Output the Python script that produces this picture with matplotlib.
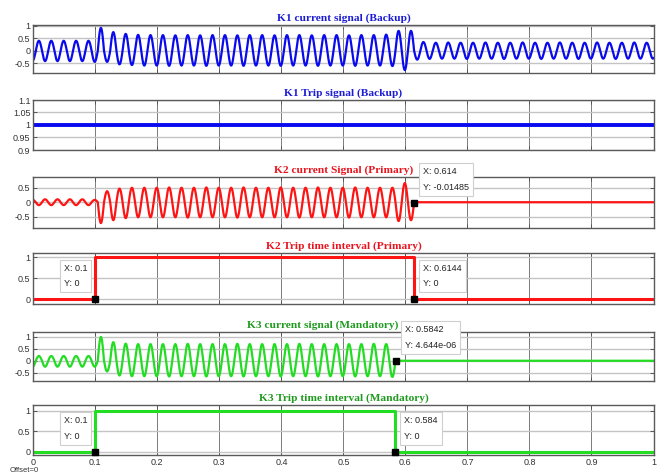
import numpy as np
import matplotlib.pyplot as plt

# Scope traces, 50 Hz: each value is the signed peak of one half cycle (0.01 s),
# the first half cycle starting at t = -0.006 s.
lobe_start = -0.006
half_period = 0.01

k1_peaks = [
    -0.40, 0.40, -0.42, 0.40, -0.42, 0.40, -0.42, 0.40, -0.42, 0.40,
    -0.45, 0.92, -0.45, 0.75, -0.55, 0.68, -0.58, 0.64, -0.60, 0.63,
    -0.60, 0.63, -0.61, 0.62, -0.60, 0.63, -0.60, 0.62, -0.61, 0.63,
    -0.60, 0.63, -0.60, 0.62, -0.61, 0.63, -0.60, 0.63, -0.60, 0.62,
    -0.61, 0.63, -0.60, 0.63, -0.60, 0.62, -0.61, 0.63, -0.60, 0.63,
    -0.60, 0.62, -0.61, 0.63, -0.60, 0.63, -0.60, 0.65, -0.62, 0.80,
    -0.78, 0.80, -0.36, 0.35, -0.33, 0.32, -0.32, 0.33, -0.32, 0.32,
    -0.33, 0.32, -0.32, 0.33, -0.32, 0.32, -0.33, 0.32, -0.32, 0.33,
    -0.32, 0.32, -0.33, 0.32, -0.32, 0.33, -0.32, 0.32, -0.33, 0.32,
    -0.32, 0.33, -0.32, 0.32, -0.33, 0.32, -0.32, 0.33, -0.32, 0.32,
    -0.32,
]
k2_peaks = [
    0.08, -0.10, 0.10, -0.10, 0.10, -0.10, 0.10, -0.10, 0.10, -0.10,
    0.08, -0.72, 0.38, -0.62, 0.47, -0.55, 0.50, -0.52, 0.50, -0.52,
    0.50, -0.52, 0.51, -0.52, 0.50, -0.53, 0.50, -0.52, 0.51, -0.52,
    0.50, -0.52, 0.50, -0.53, 0.51, -0.52, 0.50, -0.52, 0.50, -0.52,
    0.51, -0.52, 0.50, -0.53, 0.50, -0.52, 0.51, -0.52, 0.50, -0.52,
    0.50, -0.53, 0.51, -0.52, 0.50, -0.52, 0.50, -0.52, 0.50, -0.65,
    0.66, -0.62,
]
k3_peaks = [
    -0.25, 0.20, -0.25, 0.20, -0.25, 0.20, -0.25, 0.20, -0.25, 0.20,
    -0.25, 1.00, -0.45, 0.78, -0.62, 0.72, -0.65, 0.70, -0.65, 0.70,
    -0.65, 0.70, -0.66, 0.70, -0.65, 0.71, -0.65, 0.70, -0.66, 0.70,
    -0.65, 0.70, -0.65, 0.71, -0.66, 0.70, -0.65, 0.70, -0.65, 0.70,
    -0.66, 0.70, -0.65, 0.71, -0.65, 0.70, -0.66, 0.70, -0.65, 0.70,
    -0.65, 0.70, -0.66, 0.70, -0.65, 0.71, -0.65, 0.70, -0.68,
]
after_trip_level = 0.0

# trip signals (step, value held until next time)
k1_trip_t = [0.0, 1.0]
k1_trip_v = [1.0, 1.0]
k2_trip_t = [0.0, 0.1, 0.6144, 1.0]
k2_trip_v = [0.0, 1.0, 0.0, 0.0]
k3_trip_t = [0.0, 0.1, 0.584, 1.0]
k3_trip_v = [0.0, 1.0, 0.0, 0.0]

# data tips: (x, y, label x, label y)
k2_sig_tips = [(0.614, -0.01485, '0.614', '-0.01485')]
k2_trip_tips = [(0.1, 0.0, '0.1', '0'), (0.6144, 0.0, '0.6144', '0')]
k3_sig_tips = [(0.5842, 4.644e-06, '0.5842', '4.644e-06')]
k3_trip_tips = [(0.1, 0.0, '0.1', '0'), (0.584, 0.0, '0.584', '0')]

titles = ['K1 current signal (Backup)', 'K1 Trip signal (Backup)',
          'K2 current Signal (Primary)', 'K2 Trip time interval (Primary)',
          'K3 current signal (Mandatory)', 'K3 Trip time interval (Mandatory)']
x_ticks = [0, 0.1, 0.2, 0.3, 0.4, 0.5, 0.6, 0.7, 0.8, 0.9, 1]
x_ticklabels = ['0', '0.1', '0.2', '0.3', '0.4', '0.5', '0.6', '0.7', '0.8', '0.9', '1']

BLUE, RED, GREEN = '#0a0aee', '#ff1414', '#22dd22'
TITLE_COLORS = ['#1c1cd6', '#1c1cd6', '#e8141e', '#e8141e', '#1e9a1e', '#1e9a1e']
# title centre as fraction of axes width (the K3 current title sits a bit left)
title_x = [0.5, 0.5, 0.5, 0.5, 0.467, 0.5]


def lobe_trace(peaks, n=24):
    """Half-sine lobes through the read peak values."""
    s = np.linspace(0, 1, n)
    t = np.concatenate([lobe_start + half_period * (k + s) for k in range(len(peaks))])
    y = np.concatenate([p * np.sin(np.pi * s) for p in peaks])
    return t, y


def add_tip(ax, x, y, lx, ly, left=False):
    ax.plot([x], [y], 's', color='black', ms=5, clip_on=False, zorder=6)
    ax.annotate(f'X: {lx}\nY: {ly}', xy=(x, y),
                xytext=(-8 if left else 9, 11), textcoords='offset pixels',
                ha='right' if left else 'left', va='bottom', multialignment='left',
                fontsize=6.5, family='Liberation Sans', color='#222222', linespacing=1.9,
                bbox=dict(boxstyle='square,pad=0.45', fc='white', ec='#cfcfcf', lw=0.8),
                annotation_clip=False, zorder=7)


W, H = 665, 474
fig = plt.figure(figsize=(W / 100, H / 100), dpi=100)
fig.patch.set_facecolor('white')

# axes top/bottom in pixels
panel_px = [(24.7, 73), (100, 150), (177.3, 228.3), (253.3, 304.3), (331.7, 381), (405, 455)]
left_px, right_px = 33.3, 653.5
ylims = [(-0.9, 1.05), (0.9, 1.1), (-0.9, 0.86), (-0.12, 1.1), (-0.85, 1.22), (-0.08, 1.14)]
yticks = [[-0.5, 0, 0.5, 1], [0.9, 0.95, 1, 1.05, 1.1], [-0.5, 0, 0.5],
          [0, 0.5, 1], [-0.5, 0, 0.5, 1], [0, 0.5, 1]]
yticklabels = [['-0.5', '0', '0.5', '1'], ['0.9', '0.95', '1', '1.05', '1.1'],
               ['-0.5', '0', '0.5'], ['0', '0.5', '1'], ['-0.5', '0', '0.5', '1'],
               ['0', '0.5', '1']]

axes = []
for i, (top, bot) in enumerate(panel_px):
    ax = fig.add_axes([left_px / W, 1 - bot / H, (right_px - left_px) / W, (bot - top) / H])
    ax.set_xlim(0, 1)
    ax.set_ylim(*ylims[i])
    ax.set_xticks(x_ticks)
    ax.set_xticklabels(x_ticklabels if i == 5 else [])
    ax.set_yticks(yticks[i])
    ax.set_yticklabels(yticklabels[i])
    ax.tick_params(direction='in', length=3, width=0.7, colors='#555555', labelcolor='#333333',
                   labelsize=6.5, pad=2, top=True, right=True)
    for lab in ax.get_xticklabels() + ax.get_yticklabels():
        lab.set_family('Liberation Sans')
    ax.grid(True, axis='x', color='#7a7a7a', lw=0.7)
    ax.grid(True, axis='y', color='#c4c4c4', lw=1.0)
    for sp in ax.spines.values():
        sp.set_color('#5a5a5a')
        sp.set_linewidth(1.0)
    ax.set_title(titles[i], color=TITLE_COLORS[i], fontsize=8.2, fontweight='bold',
                 family='Liberation Serif', pad=3, x=title_x[i])
    axes.append(ax)

t1, y1 = lobe_trace(k1_peaks)
axes[0].plot(t1, y1, color=BLUE, lw=1.6)

axes[1].plot(k1_trip_t, k1_trip_v, color=BLUE, lw=2.8, drawstyle='steps-post')

t2, y2 = lobe_trace(k2_peaks)
t2 = np.append(t2, 1.0)
y2 = np.append(y2, after_trip_level)
axes[2].plot(t2, y2, color=RED, lw=1.6)
for x, y, lx, ly in k2_sig_tips:
    add_tip(axes[2], x, y, lx, ly)

axes[3].plot(k2_trip_t, k2_trip_v, color=RED, lw=2.2, drawstyle='steps-post')
for j, (x, y, lx, ly) in enumerate(k2_trip_tips):
    add_tip(axes[3], x, y, lx, ly, left=(j == 0))

t3, y3 = lobe_trace(k3_peaks)
t3 = np.append(t3, 1.0)
y3 = np.append(y3, after_trip_level)
axes[4].plot(t3, y3, color=GREEN, lw=1.6)
for x, y, lx, ly in k3_sig_tips:
    add_tip(axes[4], x, y, lx, ly)

axes[5].plot(k3_trip_t, k3_trip_v, color=GREEN, lw=2.2, drawstyle='steps-post')
for j, (x, y, lx, ly) in enumerate(k3_trip_tips):
    add_tip(axes[5], x, y, lx, ly, left=(j == 0))

fig.text(10 / W, 1 - 473.5 / H, 'Offset=0', fontsize=5.5, family='Liberation Sans',
         color='#333333', va='bottom')

fig.savefig('out.png', dpi=100)
